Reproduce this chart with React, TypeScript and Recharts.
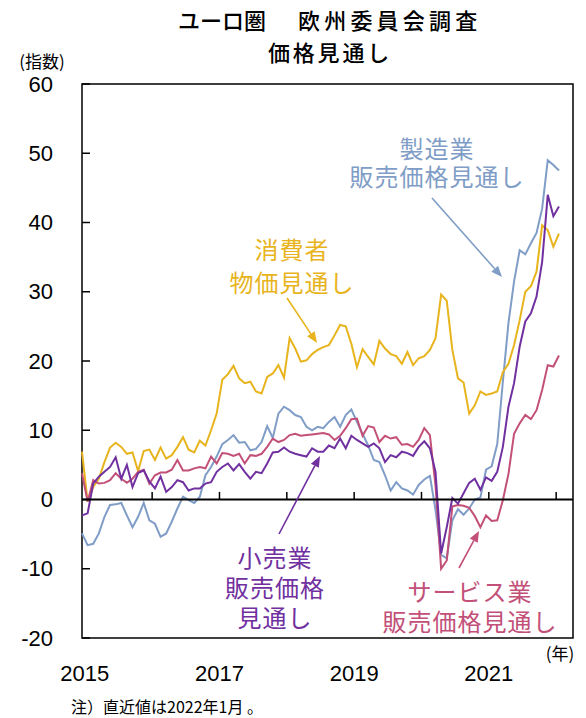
import React from "react"
import { LineChart, Line, XAxis, YAxis, ReferenceLine, ReferenceArea } from "recharts"

// monthly values, index 0 = 2014/12 ... index 85 = 2022/01
const consumer = [
  6.9, -0.3, 1.8, 3.0, 5.4, 7.5, 8.2, 7.6, 6.6, 6.8, 4.1, 7.0, 7.2, 5.7, 7.5, 5.9, 6.4, 7.6, 9.0, 7.2,
  6.8, 8.5, 7.8, 10.0, 12.4, 17.3, 18.1, 19.3, 17.5, 16.8, 17.0, 15.6, 15.3, 17.7, 18.2, 19.4, 17.6, 23.3, 21.8, 19.9,
  20.1, 21.0, 21.6, 22.0, 22.3, 23.7, 25.2, 25.0, 22.5, 19.1, 21.7, 20.6, 19.5, 22.9, 21.8, 21.0, 20.7, 19.6, 21.3, 19.4,
  20.4, 20.7, 21.6, 23.3, 29.6, 28.7, 21.6, 17.5, 16.9, 12.4, 13.6, 15.6, 15.1, 15.3, 15.6, 18.4, 19.6, 22.3, 25.9, 30.0,
  30.8, 32.9, 39.6, 38.9, 36.5, 38.4,
]
const manufacturing = [
  -4.9, -6.6, -6.4, -4.9, -2.5, -0.8, -0.7, -0.5, -2.3, -4.0, -2.5, -0.5, -3.0, -3.5, -5.4, -4.9, -3.2, -1.3, 0.4, -0.1,
  -0.5, 0.4, 3.5, 4.7, 6.2, 8.0, 8.6, 9.3, 8.2, 8.3, 7.1, 7.3, 8.3, 10.6, 8.9, 12.4, 13.4, 12.9, 12.2, 11.9,
  10.5, 10.0, 10.5, 10.3, 11.2, 11.9, 10.5, 12.2, 13.0, 11.2, 9.5, 7.8, 5.7, 5.4, 3.5, 1.3, 2.5, 1.6, 1.3, 0.7,
  2.1, 2.9, 3.4, -1.5, -8.0, -8.5, -3.0, -1.4, -2.2, -1.3, 0.0, 0.3, 4.3, 4.8, 8.0, 17.0, 25.5, 31.5, 36.0, 35.4,
  37.0, 38.5, 42.0, 49.0, 48.3, 47.5,
]
const retail = [
  -2.3, -2.0, 2.3, 3.3, 4.0, 4.7, 6.1, 3.0, 5.0, 1.8, 3.8, 4.2, 2.6, 1.6, 3.3, 1.1, 1.8, 2.8, 2.5, 1.3,
  1.6, 1.6, 2.3, 2.5, 4.0, 4.7, 5.2, 4.2, 5.1, 4.0, 3.0, 4.0, 3.8, 5.2, 6.8, 6.9, 7.5, 6.9, 6.6, 6.4,
  6.2, 7.4, 6.9, 6.9, 7.8, 7.4, 8.8, 7.4, 9.2, 8.6, 8.1, 7.6, 8.1, 7.4, 5.4, 6.4, 6.1, 6.9, 6.7, 6.3,
  7.6, 8.4, 7.4, 4.0, -7.8, -4.0, 0.2, -0.6, 0.9, 2.4, 3.0, 1.4, 3.2, 2.7, 4.0, 7.6, 13.4, 16.8, 22.1, 25.7,
  26.9, 29.3, 34.3, 44.0, 40.9, 42.3,
]
const services = [
  3.8, -0.3, 2.8, 2.3, 2.4, 2.8, 3.8, 3.0, 2.4, 3.0, 4.0, 4.3, 2.3, 3.5, 3.9, 3.9, 4.3, 5.7, 4.2, 4.2,
  4.5, 4.7, 4.5, 6.2, 5.2, 6.7, 6.6, 6.3, 6.6, 5.2, 6.4, 6.3, 6.6, 7.6, 8.8, 8.3, 8.6, 9.3, 9.5, 9.2,
  9.3, 9.4, 9.5, 9.6, 9.4, 8.6, 9.2, 10.3, 11.6, 11.7, 9.2, 10.6, 10.4, 8.3, 9.2, 8.8, 9.0, 7.9, 8.0, 7.6,
  8.6, 10.3, 9.3, 2.0, -10.0, -8.8, -1.0, -0.8, -0.9, -1.2, -2.4, -4.0, -2.3, -3.1, -3.0, -0.1, 3.7, 9.5, 11.0, 12.2,
  11.6, 12.9, 15.8, 19.4, 19.2, 20.8,
]

const yearLabelPos = [0.5, 24.5, 48.5, 72.5]
const yearLabels = ["2015", "2017", "2019", "2021"]
const yearMarks = [12.5, 24.5, 36.5, 48.5, 60.5, 72.5, 84.5]
const yTicks = [-20, -10, 0, 10, 20, 30, 40, 50, 60]

const BLUE = "#7f9dc6"
const YELLOW = "#e8b41e"
const PURPLE = "#7030a0"
const PINK = "#c25078"
const NUM_FONT = "'Liberation Sans', Arial, sans-serif"
const JP_FONT = "'Noto Sans CJK JP', sans-serif"

const data = consumer.map((v, i) => ({
  i,
  consumer: v,
  manufacturing: manufacturing[i],
  retail: retail[i],
  services: services[i],
}))

const YTick = (props: any) => {
  const { x, y, payload } = props
  return (
    <g>
      <line x1={x} x2={x + 8} y1={y} y2={y} stroke="#000" strokeWidth={1.5} />
      <text x={x - 29} y={y} textAnchor="end" dominantBaseline="central" fontSize={22} fontFamily={NUM_FONT} fill="#000">
        {payload.value}
      </text>
    </g>
  )
}

const XTick = (props: any) => {
  const { x, y, payload } = props
  const idx = yearLabelPos.indexOf(payload.value)
  return (
    <text x={x} y={y + 35} textAnchor="middle" dominantBaseline="central" fontSize={22} fontFamily={NUM_FONT} fill="#000">
      {yearLabels[idx]}
    </text>
  )
}

const Arrow = ({ x1, y1, x2, y2, color }: { x1: number; y1: number; x2: number; y2: number; color: string }) => {
  const a = Math.atan2(y2 - y1, x2 - x1)
  const len = 11
  const w = 4.5
  const bx = x2 - len * Math.cos(a)
  const by = y2 - len * Math.sin(a)
  const p1 = `${bx + w * Math.sin(a)},${by - w * Math.cos(a)}`
  const p2 = `${bx - w * Math.sin(a)},${by + w * Math.cos(a)}`
  return (
    <g>
      <line x1={x1} y1={y1} x2={bx} y2={by} stroke={color} strokeWidth={1.6} />
      <polygon points={`${x2},${y2} ${p1} ${p2}`} fill={color} />
    </g>
  )
}

// multi-line annotation as one text element
const Label = ({ x, y, lines, color, gap }: { x: number; y: number; lines: string[]; color: string; gap: number }) => (
  <text x={x} y={y} textAnchor="middle" dominantBaseline="central" fontSize={24} letterSpacing={1} fontFamily={JP_FONT} fill={color}>
    {lines.map((t, k) => (
      <tspan key={k} x={x} dy={k === 0 ? 0 : gap}>
        {t}
      </tspan>
    ))}
  </text>
)

export default function App() {
  return (
    <div style={{ position: "absolute", left: 0, top: 0, width: 586, height: 718, background: "#fff" }}>
      <LineChart width={586} height={718} data={data} margin={{ top: 84, right: 13, left: 0, bottom: 0 }}>
        <XAxis
          dataKey="i"
          type="number"
          domain={[0, 87.5]}
          ticks={yearLabelPos}
          tick={<XTick />}
          tickLine={false}
          axisLine={false}
          tickSize={0}
          tickMargin={0}
          height={80}
          interval={0}
        />
        <YAxis
          type="number"
          domain={[-20, 60]}
          ticks={yTicks}
          tick={<YTick />}
          tickLine={false}
          axisLine={false}
          tickSize={0}
          tickMargin={0}
          width={82}
          interval={0}
        />
        <ReferenceArea x1={0} x2={87.5} y1={-20} y2={60} fill="none" stroke="#000" strokeWidth={1.5} ifOverflow="visible" />
        <Line dataKey="manufacturing" stroke={BLUE} strokeWidth={2} dot={false} type="linear" isAnimationActive={false} />
        <Line dataKey="consumer" stroke={YELLOW} strokeWidth={2} dot={false} type="linear" isAnimationActive={false} />
        <Line dataKey="services" stroke={PINK} strokeWidth={2} dot={false} type="linear" isAnimationActive={false} />
        <Line dataKey="retail" stroke={PURPLE} strokeWidth={2} dot={false} type="linear" isAnimationActive={false} />
        <ReferenceLine y={0} stroke="#000" strokeWidth={2} />
        {yearMarks.map((m) => (
          <ReferenceLine key={m} segment={[{ x: m, y: 0 }, { x: m, y: 1.1 }]} stroke="#000" strokeWidth={1.5} />
        ))}
      </LineChart>

      <svg width={586} height={718} style={{ position: "absolute", left: 0, top: 0, pointerEvents: "none" }}>
        <text x={178} y={19} dominantBaseline="central" fontSize={22} fontWeight={500} fontFamily={JP_FONT} fill="#000">
          ユーロ圏
        </text>
        <text x={298} y={19} dominantBaseline="central" fontSize={22} fontWeight={500} fontFamily={JP_FONT} letterSpacing={4.2} fill="#000">
          欧州委員会調査
        </text>
        <text x={268} y={51} dominantBaseline="central" fontSize={22} fontWeight={500} fontFamily={JP_FONT} letterSpacing={2.8} fill="#000">
          価格見通し
        </text>
        <text x={42} y={60} textAnchor="middle" dominantBaseline="central" fontSize={17} fontFamily={JP_FONT} fill="#000">
          (指数)
        </text>
        <text x={560} y={652} textAnchor="middle" dominantBaseline="central" fontSize={17} fontFamily={JP_FONT} fill="#000">
          (年)
        </text>
        <text x={71} y={706} dominantBaseline="central" fontSize={16} fontFamily={JP_FONT} fill="#000">
          注）直近値は2022年1月 。
        </text>

        <Label x={437} y={147} lines={["製造業", "販売価格見通し"]} color={BLUE} gap={28} />
        <Arrow x1={432} y1={198} x2={502} y2={277} color={BLUE} />

        <Label x={292} y={248} lines={["消費者", "物価見通し"]} color={YELLOW} gap={33} />
        <Arrow x1={287} y1={298} x2={317} y2={343} color={YELLOW} />

        <Label x={275} y={556} lines={["小売業", "販売価格", "見通し"]} color={PURPLE} gap={30} />
        <Arrow x1={279} y1={534} x2={320} y2={456} color={PURPLE} />

        <Label x={470} y={590} lines={["サービス業", "販売価格見通し"]} color={PINK} gap={30} />
        <Arrow x1={459} y1={568} x2={479} y2={531} color={PINK} />
      </svg>
    </div>
  )
}
